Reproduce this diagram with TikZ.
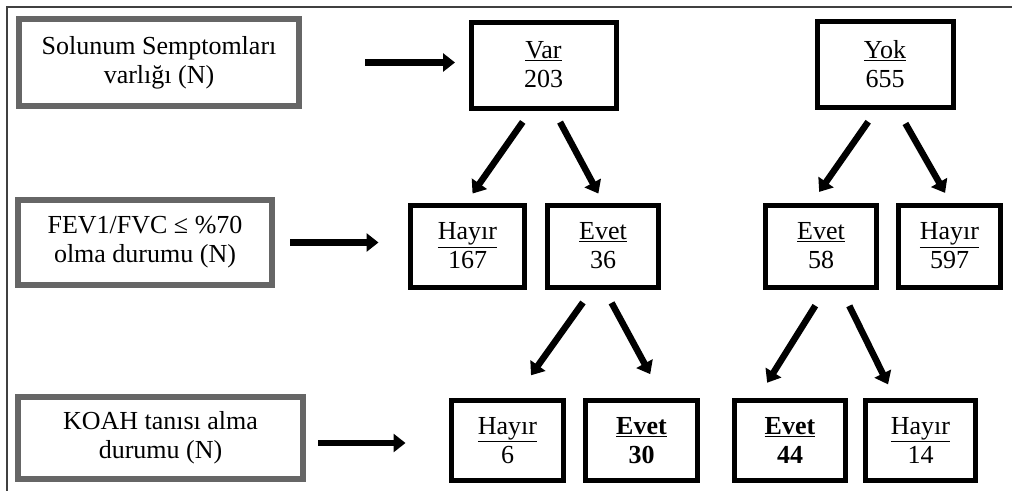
\documentclass[tikz,border=0pt]{standalone}
\usepackage{fontspec}
\setmainfont{Liberation Serif}
\usetikzlibrary{arrows.meta}

\begin{document}
\begin{tikzpicture}[x=1pt,y=-1pt,
                soru/.style={draw=black!60,line width=5.5pt,inner sep=0pt,outer sep=0pt,
                        align=center,font=\fontsize{26}{29}\selectfont},
                kutu/.style={draw=black,line width=5pt,inner sep=0pt,outer sep=0pt,
                        align=center,font=\fontsize{26}{29}\selectfont},
                ok/.style={line width=6.5pt,-{Triangle[width=18pt,length=12pt]}}]
                \useasboundingbox (0,0) rectangle (1012,490);
                \draw[black!75,line width=1.3pt] (7,495) -- (7,7) -- (1017,7);

                \node[soru,minimum width=280pt,minimum height=87pt] (soru1) at (159,62.5)
                        {Solunum Semptomları\\varlığı (N)};
                \node[soru,minimum width=254pt,minimum height=85pt] (soru2) at (145,242.5)
                        {FEV1/FVC ≤ \%70\\olma durumu (N)};
                \node[soru,minimum width=285pt,minimum height=82pt] (soru3) at (160.5,438)
                        {KOAH tanısı alma\\durumu (N)};

                \node[kutu,minimum width=145pt,minimum height=86pt] (var) at (543.5,65) {\underline{Var}\\203};
                \node[kutu,minimum width=136pt,minimum height=86pt] (yok) at (885,64) {\underline{Yok}\\655};

                \node[kutu,minimum width=114pt,minimum height=82pt] (hayir1) at (467.5,246) {\underline{Hayır}\\167};
                \node[kutu,minimum width=111pt,minimum height=82pt] (evet1) at (603,246) {\underline{Evet}\\36};
                \node[kutu,minimum width=111pt,minimum height=82pt] (evet2) at (821,246) {\underline{Evet}\\58};
                \node[kutu,minimum width=102pt,minimum height=82pt] (hayir2) at (949.5,246) {\underline{Hayır}\\597};

                \node[kutu,minimum width=112pt,minimum height=80pt] (hayir3) at (507.5,440.5) {\underline{Hayır}\\6};
                \node[kutu,minimum width=112pt,minimum height=80pt] (evet3) at (641.5,440.5)
                        {\textbf{\underline{Evet}}\\\textbf{30}};
                \node[kutu,minimum width=111pt,minimum height=80pt] (evet4) at (790,440.5)
                        {\textbf{\underline{Evet}}\\\textbf{44}};
                \node[kutu,minimum width=110pt,minimum height=80pt] (hayir4) at (920.5,440.5) {\underline{Hayır}\\14};

                \draw[ok,shorten <=66pt,shorten >=16pt] (soru1.east) -- (soru1.east -| var.west);
                \draw[ok,shorten <=18pt,shorten >=32pt] (soru2.east) -- (soru2.east -| hayir1.west);
                \draw[ok,shorten <=15pt,shorten >=46pt] ([yshift=-5pt]soru3.east) -- ([yshift=-5pt]soru3.east -| hayir3.west);

                \draw[ok,shorten <=17pt,shorten >=14pt] ([xshift=-11pt]var.south) -- ([xshift=-3pt]hayir1.north);
                \draw[ok,shorten <=16pt,shorten >=13pt] ([xshift=9pt]var.south) -- ([xshift=1.5pt]evet1.north);
                \draw[ok,shorten <=18pt,shorten >=16pt] ([xshift=-6.5pt]yok.south) -- ([xshift=-11pt]evet2.north);
                \draw[ok,shorten <=19pt,shorten >=14pt] ([xshift=11pt]yok.south) -- ([xshift=2.5pt]hayir2.north);

                \draw[ok,shorten <=19pt,shorten >=31pt] ([xshift=-9pt]evet1.south) -- ([xshift=5.5pt]hayir3.north);
                \draw[ok,shorten <=18pt,shorten >=30pt] (evet1.south) -- ([xshift=23pt]evet3.north);
                \draw[ok,shorten <=22pt,shorten >=21pt] ([xshift=6pt]evet2.south) -- ([xshift=-34pt]evet4.north);
                \draw[ok,shorten <=21pt,shorten >=18pt] ([xshift=19pt]evet2.south) -- ([xshift=-24.5pt]hayir4.north);
\end{tikzpicture}
\end{document}
